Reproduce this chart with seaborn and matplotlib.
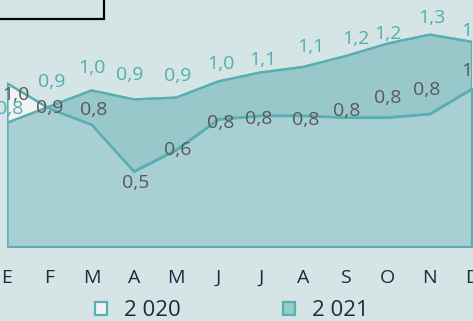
import pandas as pd
import numpy as np
import matplotlib
matplotlib.use('Agg')
import matplotlib.pyplot as plt
from matplotlib.patches import Patch, Rectangle
import seaborn as sns

# Monthly values (Spanish month initials)
months = ['E', 'F', 'M', 'A', 'M', 'J', 'J', 'A', 'S', 'O', 'N', 'D']
values_2020 = [1.01, 0.87, 0.78, 0.52, 0.64, 0.81, 0.83, 0.83, 0.82, 0.82, 0.84, 0.98]
values_2021 = [0.79, 0.88, 0.97, 0.92, 0.93, 1.02, 1.07, 1.10, 1.16, 1.23, 1.28, 1.24]
series_names = ['2 020', '2 021']
box_text = '- 13%'

# label nudges in pixels (dx, dy) so labels sit like in the original
offs_2020 = [(9, -12), (0, 0), (2, 15), (2, -12), (2, 0), (2, -4),
             (-2, -3), (3, -4), (2, 6), (0, 19), (-3, 24), (3, 18)]
offs_2021 = [(3, 14), (2, 25), (0, 22), (-4, 24), (2, 22), (3, 17),
             (2, 12), (8, 20), (11, 17), (0, 10), (2, 17), (3, 11)]

BG = '#D5E4E4'
TEAL = '#5AAFB3'
TEAL_FILL = '#4EA6AB'
WHITE_FILL = '#F2F2F2'
DARK_LABEL = '#595959'
TEAL_LABEL = '#52AEB2'
NAVY = '#1C2A45'

sns.set_theme(style='white')
plt.rcParams['font.family'] = ['Open Sans', 'DejaVu Sans']

df = pd.DataFrame({
    'month': list(range(12)) * 2,
    'value': values_2020 + values_2021,
    'year': [series_names[0]] * 12 + [series_names[1]] * 12,
})

fig = plt.figure(figsize=(4.73, 3.21), dpi=100, facecolor=BG)
ax = fig.add_axes([7 / 473, 74 / 321, 465 / 473, 247 / 321])
ax.set_facecolor(BG)

x = np.arange(12)
ymin = 0.1
ax.fill_between(x, ymin, values_2020, facecolor=WHITE_FILL, edgecolor=TEAL,
                linewidth=1.6, zorder=1)
ax.fill_between(x, ymin, values_2021, facecolor=TEAL_FILL, alpha=0.45,
                edgecolor='none', zorder=2)
ax.fill_between(x, ymin, values_2021, facecolor='none', edgecolor=TEAL,
                linewidth=1.6, zorder=3)
sns.lineplot(data=df, x='month', y='value', hue='year', palette=[TEAL, TEAL],
             linewidth=1.6, legend=False, ax=ax, zorder=4)

for vals, offs, col in [(values_2020, offs_2020, DARK_LABEL),
                        (values_2021, offs_2021, TEAL_LABEL)]:
    for i, v in enumerate(vals):
        ax.annotate(f'{v:.1f}'.replace('.', ','), (i, v), xytext=offs[i],
                    textcoords='offset pixels', ha='center', va='center',
                    fontsize=14, color=col, zorder=5, annotation_clip=False)

ax.set_xlim(0, 11)
ax.set_ylim(ymin, ymin + 247 / 180)
ax.set_xticks(x)
ax.set_xticklabels(months)
ax.tick_params(axis='x', length=0, pad=16, labelsize=14, labelcolor=NAVY)
ax.set_yticks([])
ax.set_xlabel('')
ax.set_ylabel('')
for s in ax.spines.values():
    s.set_visible(False)

handles = [Patch(facecolor=WHITE_FILL, edgecolor=TEAL, linewidth=1.6),
           Patch(facecolor='#98C9CB', edgecolor=TEAL, linewidth=1.6)]
fig.legend(handles, series_names, loc='center', bbox_to_anchor=(232 / 473, 10 / 321),
           ncol=2, frameon=False, fontsize=16, labelcolor=NAVY,
           handlelength=0.55, handleheight=0.55, handletextpad=0.75,
           columnspacing=4.6)

# cropped title box in the top left corner
fig.add_artist(Rectangle((-0.02, 302 / 321), 113 / 473, 0.2, transform=fig.transFigure,
                         facecolor=BG, edgecolor='black', linewidth=1.6, clip_on=False))
fig.text(74 / 473, 1 - 0.5 / 321, box_text, ha='right', va='baseline',
         fontsize=14, color='black')

fig.savefig('out.png', dpi=100, facecolor=BG)
